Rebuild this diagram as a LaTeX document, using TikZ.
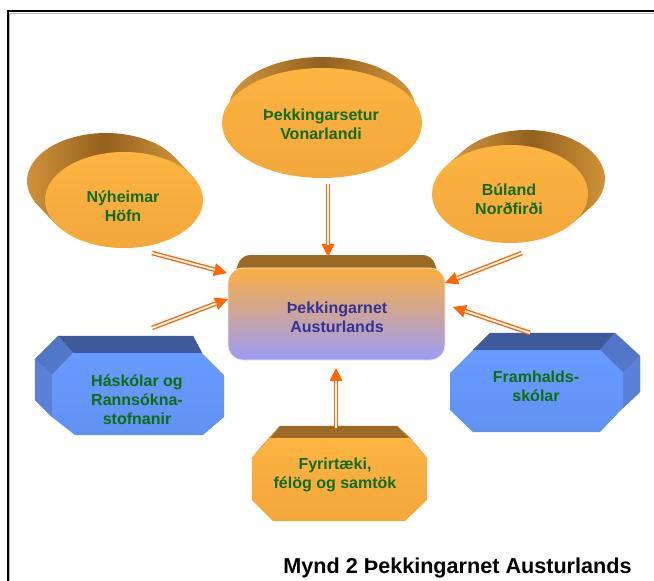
\documentclass[tikz,border=0pt]{standalone}
\usepackage{fontspec}
\setmainfont{Liberation Sans}
\usetikzlibrary{arrows.meta,calc}
\definecolor{arrowc}{RGB}{255,102,0}
\definecolor{orgA}{RGB}{252,180,66}
\definecolor{orgB}{RGB}{243,168,58}
\definecolor{brD}{RGB}{148,96,30}
\definecolor{brL}{RGB}{216,154,62}
\definecolor{brT}{RGB}{156,106,38}
\definecolor{brS}{RGB}{205,145,55}
\definecolor{txtg}{RGB}{16,108,16}
\definecolor{txtb}{RGB}{50,50,150}
\definecolor{blFa}{RGB}{104,155,255}
\definecolor{blFb}{RGB}{96,146,242}
\definecolor{blT}{RGB}{62,90,155}
\definecolor{blS}{RGB}{82,118,200}
\definecolor{blL}{RGB}{90,128,215}
\definecolor{boxT}{RGB}{251,175,64}
\definecolor{boxM}{RGB}{224,166,168}
\definecolor{boxB}{RGB}{156,156,248}
\definecolor{boxE}{RGB}{155,106,38}
\begin{document}
\begin{tikzpicture}[x=1pt,y=-1pt,
  lbl/.style={font=\bfseries\fontsize{16}{19}\selectfont, text=txtg, align=center, inner sep=0pt},
  extr/.style={left color=brL, right color=brL, middle color=brD},
  face/.style={top color=orgA, bottom color=orgB},
  blface/.style={top color=blFa, bottom color=blFb},
  arrO/.style={draw=arrowc, line width=4.6pt, -{Triangle[length=13pt,width=13pt,line width=0pt]}},
  arrI/.style={draw=white, line width=1.8pt, shorten >=12.5pt}]
\useasboundingbox (0,0) rectangle (654,581);
\fill[white] (0,0) rectangle (654,581);
% frame
\draw[line width=2pt] (7.5,11) rectangle (680,600);
\draw[gray!55, line width=0.7pt] (9.6,13.1) rectangle (678,598);

% top ellipse
\shade[extr] (422,123) -- (415,108) arc[start angle=0, end angle=-180, x radius=93, y radius=51] -- (222,123) -- cycle;
\shade[face] (322,123) ellipse[x radius=100, y radius=55];
\node[lbl] (von) at (321,124.5) {Þekkingarsetur\\Vonarlandi};

% left ellipse
\shade[extr] (192.5,176.1) -- (174.5,157.1) arc[start angle=-29.9, end angle=-209.9, x radius=79, y radius=48] -- (55.5,223.9) -- cycle;
\shade[face] (124,200) ellipse[x radius=79, y radius=48];
\node[lbl] (nyh) at (123,206.5) {Nýheimar\\Höfn};

% right ellipse
\shade[extr] (573.5,222.4) -- (590.5,207.4) arc[start angle=35.45, end angle=-144.55, x radius=78, y radius=49] -- (446.5,165.6) -- cycle;
\shade[face] (510,194) ellipse[x radius=78, y radius=49];
\node[lbl] (bul) at (509,199.5) {Búland\\Norðfirði};

% centre box
\fill[boxE, rounded corners=9pt] (229,292) -- (241,255) -- (432,255) -- (444,292) -- cycle;
\shadedraw[top color=boxT, middle color=boxM, bottom color=boxB, draw={rgb,255:red,245;green,230;blue,235}, line width=0.8pt, rounded corners=15pt] (228,268) rectangle (445,360);
\node[lbl, text=txtb] (net) at (337,317.5) {Þekkingarnet\\Austurlands};

% left octagon
\filldraw[blT, line width=0.3pt] (58,336) -- (193,336) -- (202,353) -- (73,353) -- cycle;
\filldraw[blS, line width=0.3pt] (35,359) -- (58,336) -- (73,353) -- (52,375) -- cycle;
\filldraw[blL, line width=0.3pt] (35,359) -- (35,400) -- (52,417) -- (52,375) -- cycle;
\shade[blface] (73,353) -- (202,353) -- (224,375) -- (224,417) -- (203,435) -- (75,435) -- (52,417) -- (52,375) -- cycle;
\node[lbl] (has) at (137,400) {Háskólar og\\Rannsókna-\\stofnanir};

% right octagon
\filldraw[blT, line width=0.3pt] (490,333) -- (615,333) -- (600,350) -- (473,350) -- cycle;
\filldraw[blS, line width=0.3pt] (615,333) -- (640,356) -- (623,373) -- (600,350) -- cycle;
\filldraw[blL, line width=0.3pt] (640,356) -- (640,392) -- (623,408) -- (623,373) -- cycle;
\shade[blface] (473,350) -- (600,350) -- (623,373) -- (623,408) -- (600,432) -- (473,432) -- (450,410) -- (450,373) -- cycle;
\node[lbl] (fra) at (536,386.5) {Framhalds-\\skólar};

% bottom octagon
\filldraw[brT, line width=0.3pt] (280,426) -- (397,426) -- (410,438) -- (270,438) -- cycle;
\filldraw[brS, line width=0.3pt] (280,426) -- (270,438) -- (252,458) -- (262,446) -- cycle;
\filldraw[brS, line width=0.3pt] (397,426) -- (410,438) -- (427,458) -- (417,446) -- cycle;
\shade[face] (270,438) -- (410,438) -- (427,458) -- (427,500) -- (405,521) -- (273,521) -- (252,500) -- (252,458) -- cycle;
\node[lbl] (fyr) at (335,474.5) {Fyrirtæki,\\félög og samtök};

% arrows
\coordinate (tA) at (328,184); \coordinate (tB) at (328,257);
\coordinate (luA) at (152,253); \coordinate (luB) at (227,273);
\coordinate (llA) at (152,328); \coordinate (llB) at (228,299);
\coordinate (ruA) at (522,253); \coordinate (ruB) at (445,283);
\coordinate (rlA) at (530,333); \coordinate (rlB) at (453,307);
\coordinate (bA) at (336,428); \coordinate (bB) at (336,368);
\foreach \a/\b in {tA/tB, luA/luB, llA/llB, ruA/ruB, rlA/rlB, bA/bB} {
  \draw[arrO] (\a) -- (\b);
  \draw[arrI] (\a) -- (\b);
}

% caption
\node[font=\bfseries\fontsize{21.6}{26}\selectfont, anchor=base, inner sep=0pt] (cap) at (457.5,573) {Mynd 2 Þekkingarnet Austurlands};
\end{tikzpicture}
\end{document}
